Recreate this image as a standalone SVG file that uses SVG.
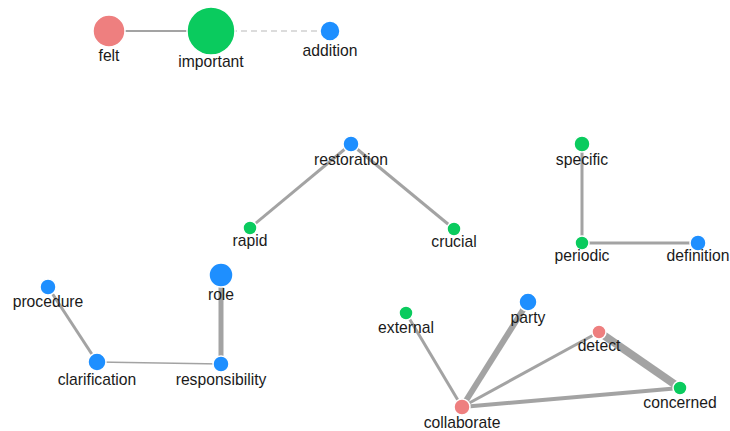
<svg xmlns="http://www.w3.org/2000/svg" width="730" height="431" viewBox="0 0 730 431">
<style>
.l{stroke:#999;stroke-opacity:0.9;fill:none}
.n{stroke:#fff;stroke-width:1.5}
.r{fill:#ee7f7f}.b{fill:#1e8fff}.g{fill:#0acb5e}
text{font-family:"Liberation Sans",Arial,sans-serif;font-size:15.7px;fill:#1a1a1a;text-anchor:middle}
</style>
<rect width="730" height="431" fill="#fff"/>
<g id="links">
<line class="l" x1="109" y1="31" x2="211" y2="31" stroke-width="2"/>
<line class="l" x1="211" y1="31" x2="330" y2="31" stroke-width="1.5" stroke-dasharray="6,4" style="stroke:#ccc"/>
<line class="l" x1="351" y1="144" x2="250" y2="228" stroke-width="3"/>
<line class="l" x1="351" y1="144" x2="454" y2="229" stroke-width="3"/>
<line class="l" x1="582" y1="144" x2="582" y2="243" stroke-width="3"/>
<line class="l" x1="582" y1="243" x2="698" y2="243" stroke-width="3"/>
<line class="l" x1="48" y1="287" x2="97" y2="362" stroke-width="3"/>
<line class="l" x1="97" y1="362" x2="221" y2="364" stroke-width="1.5"/>
<line class="l" x1="221" y1="275" x2="221" y2="364" stroke-width="5"/>
<line class="l" x1="406" y1="313" x2="462" y2="407" stroke-width="3"/>
<line class="l" x1="528" y1="302" x2="462" y2="407" stroke-width="6"/>
<line class="l" x1="599" y1="332" x2="462" y2="407" stroke-width="3"/>
<line class="l" x1="680" y1="388" x2="462" y2="407" stroke-width="4"/>
<line class="l" x1="599" y1="332" x2="680" y2="388" stroke-width="8"/>
</g>
<g id="felt"><circle class="n r" cx="109" cy="31" r="16"/><text x="109" y="61">felt</text></g>
<g id="important"><circle class="n g" cx="211" cy="31" r="24"/><text x="211" y="67">important</text></g>
<g id="addition"><circle class="n b" cx="330" cy="31" r="10"/><text x="330" y="56">addition</text></g>
<g id="restoration"><circle class="n b" cx="351" cy="144" r="8"/><text x="351" y="165">restoration</text></g>
<g id="rapid"><circle class="n g" cx="250" cy="228" r="7"/><text x="250" y="246">rapid</text></g>
<g id="crucial"><circle class="n g" cx="454" cy="229" r="7"/><text x="454" y="247">crucial</text></g>
<g id="specific"><circle class="n g" cx="582" cy="144" r="8"/><text x="582" y="165">specific</text></g>
<g id="periodic"><circle class="n g" cx="582" cy="243" r="7"/><text x="582" y="261">periodic</text></g>
<g id="definition"><circle class="n b" cx="698" cy="243" r="8"/><text x="698" y="261">definition</text></g>
<g id="procedure"><circle class="n b" cx="48" cy="287" r="8"/><text x="48" y="307">procedure</text></g>
<g id="clarification"><circle class="n b" cx="97" cy="362" r="9"/><text x="97" y="385">clarification</text></g>
<g id="role"><circle class="n b" cx="221" cy="275" r="12"/><text x="221" y="300">role</text></g>
<g id="responsibility"><circle class="n b" cx="221" cy="364" r="8"/><text x="221" y="385">responsibility</text></g>
<g id="external"><circle class="n g" cx="406" cy="313" r="7"/><text x="406" y="333">external</text></g>
<g id="party"><circle class="n b" cx="528" cy="302" r="9"/><text x="528" y="323">party</text></g>
<g id="detect"><circle class="n r" cx="599" cy="332" r="7"/><text x="599" y="351">detect</text></g>
<g id="concerned"><circle class="n g" cx="680" cy="388" r="7"/><text x="680" y="408">concerned</text></g>
<g id="collaborate"><circle class="n r" cx="462" cy="407" r="8"/><text x="462" y="428">collaborate</text></g>
</svg>
